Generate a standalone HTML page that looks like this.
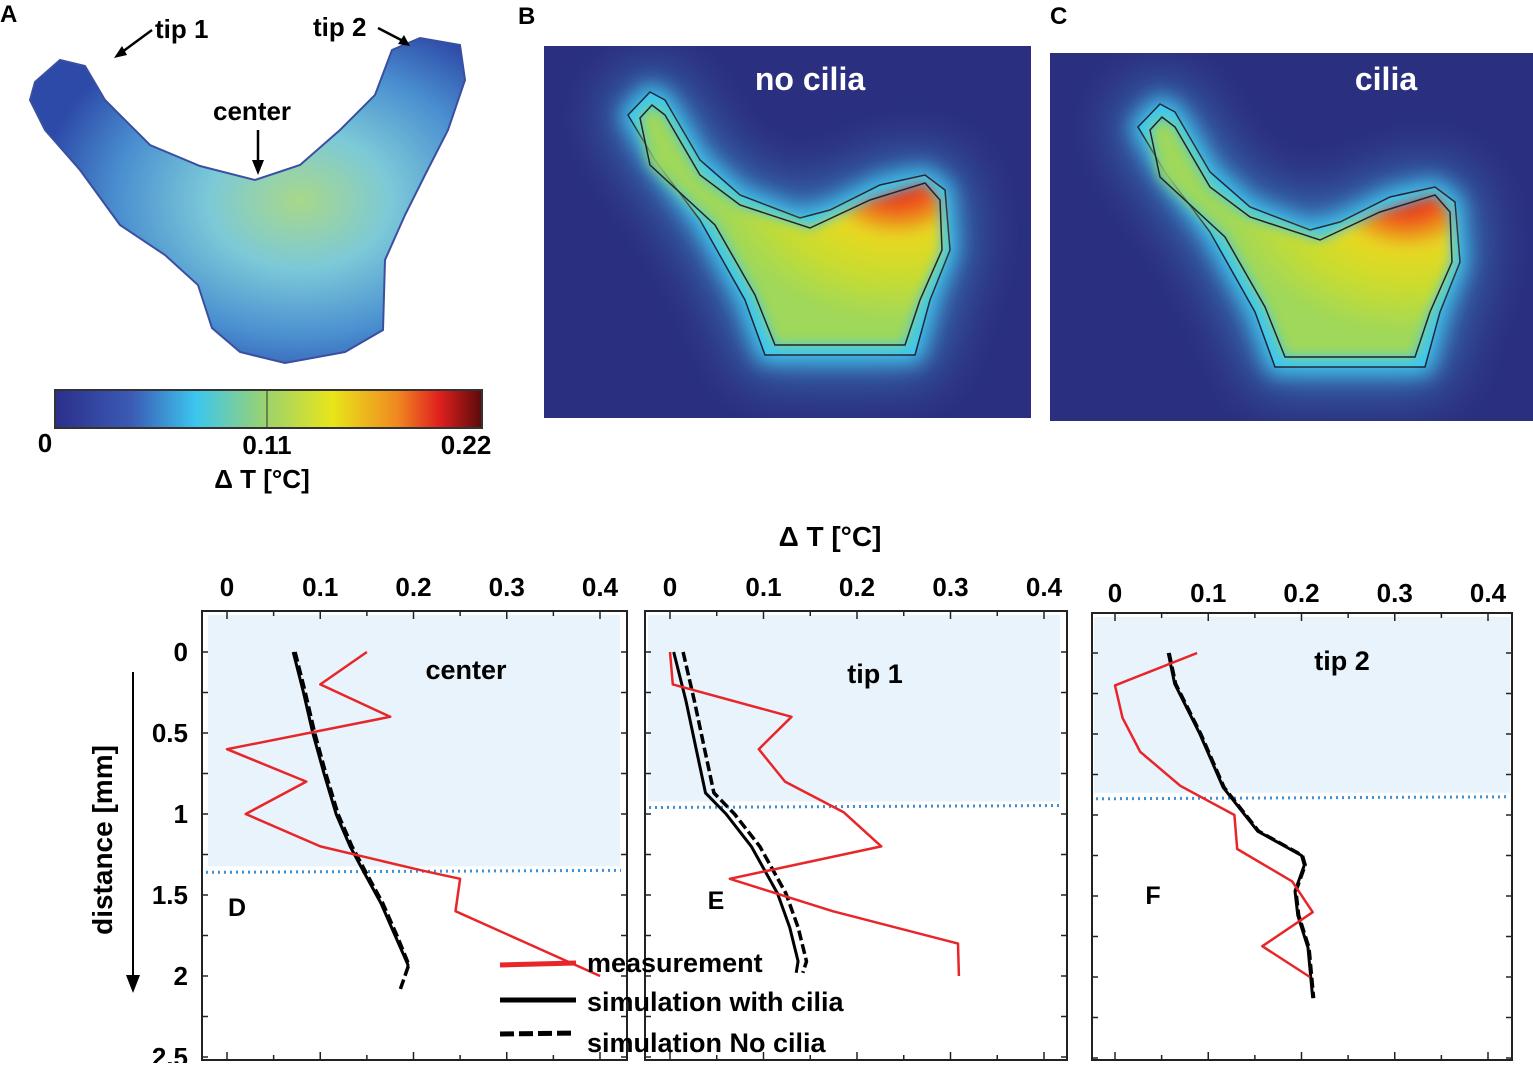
<!DOCTYPE html>
<html><head><meta charset="utf-8">
<style>
html,body{margin:0;padding:0;background:#fff;}
body{width:1533px;height:1063px;position:relative;overflow:hidden;font-family:"Liberation Sans",sans-serif;}
svg text{font-family:"Liberation Sans",sans-serif;font-weight:bold;}
</style></head>
<body>
<svg id="fig" width="1533" height="1063" viewBox="0 0 1533 1063" xmlns="http://www.w3.org/2000/svg">
<defs>
 <linearGradient id="cbar" x1="0" x2="1" y1="0" y2="0">
  <stop offset="0" stop-color="#2b2f8a"/><stop offset="0.18" stop-color="#3b5bb5"/>
  <stop offset="0.33" stop-color="#3cc6ee"/><stop offset="0.5" stop-color="#9fd36a"/>
  <stop offset="0.65" stop-color="#e8e61a"/><stop offset="0.8" stop-color="#f08a20"/>
  <stop offset="0.9" stop-color="#e0201e"/><stop offset="1" stop-color="#5a0a0a"/>
 </linearGradient>
 <radialGradient id="blobg" cx="0.62" cy="0.5" r="0.6">
  <stop offset="0" stop-color="#a8d88a"/><stop offset="0.35" stop-color="#7cc9d8"/>
  <stop offset="0.7" stop-color="#4a8fd0"/><stop offset="1" stop-color="#2d4aa8"/>
 </radialGradient>
 <radialGradient id="hot" cx="0.85" cy="0.3" r="0.6">
  <stop offset="0" stop-color="#d8101a"/><stop offset="0.22" stop-color="#ee5a1e"/>
  <stop offset="0.42" stop-color="#e8d820"/><stop offset="0.7" stop-color="#c8dc30"/><stop offset="1" stop-color="#9fd85a"/>
 </radialGradient>
 <filter id="blur1" x="-50%" y="-50%" width="200%" height="200%"><feGaussianBlur stdDeviation="28"/></filter>
 <filter id="blur3" x="-50%" y="-50%" width="200%" height="200%"><feGaussianBlur stdDeviation="10"/></filter>
 <filter id="blur2"><feGaussianBlur stdDeviation="6"/></filter>
 <clipPath id="clipB"><rect x="544" y="46" width="487" height="372"/></clipPath>
 <clipPath id="clipC"><rect x="1050" y="53" width="483" height="368"/></clipPath>
 <g id="heatshape">
  <path d="M628,115 L650,92 L665,100 L700,160 L740,195 L800,218 L830,210 L880,185 L925,175 L945,190 L950,250 L930,300 L915,355 L765,355 L745,300 L700,220 L655,160 Z" fill="#4ac0ee" stroke="#4ac0ee" stroke-width="40" opacity="0.55" filter="url(#blur1)"/>
  <path d="M628,115 L650,92 L665,100 L700,160 L740,195 L800,218 L830,210 L880,185 L925,175 L945,190 L950,250 L930,300 L915,355 L765,355 L745,300 L700,220 L655,160 Z" fill="#3ec6ef" stroke="#40c8f0" stroke-width="14" filter="url(#blur3)"/>
  <path d="M628,115 L650,92 L665,100 L700,160 L740,195 L800,218 L830,210 L880,185 L925,175 L945,190 L950,250 L930,300 L915,355 L765,355 L745,300 L700,220 L655,160 Z" fill="#3ec6ef" stroke="#223" stroke-width="1.5"/>
  <path d="M640,118 L652,105 L665,115 L700,175 L740,205 L810,228 L870,200 L925,183 L940,200 L942,250 L920,300 L905,345 L775,345 L755,295 L715,225 L650,165 Z" fill="url(#hot)" filter="url(#blur2)"/>
  <path d="M640,118 L652,105 L665,115 L700,175 L740,205 L810,228 L870,200 L925,183 L940,200 L942,250 L920,300 L905,345 L775,345 L755,295 L715,225 L650,165 Z" fill="none" stroke="#223" stroke-width="1.5"/>
 </g>
</defs>

<!-- Panel A -->
<text x="0" y="22" font-size="24">A</text>
<path d="M35,82 L60,60 L85,66 L105,100 L150,145 L200,166 L255,180 L300,165 L340,130 L375,95 L392,50 L420,38 L460,45 L465,80 L448,130 L425,175 L405,215 L385,260 L383,330 L345,352 L285,363 L240,352 L212,328 L198,285 L165,255 L120,225 L80,170 L45,130 L30,100 Z" fill="url(#blobg)" stroke="#3a4fa0" stroke-width="2"/>
<g font-size="26">
<text x="155" y="38">tip 1</text>
<line x1="152" y1="30" x2="118" y2="55" stroke="#000" stroke-width="2.5"/>
<path d="M114,58 L122,46 L127,55 Z" fill="#000"/>
<text x="313" y="36">tip 2</text>
<line x1="378" y1="28" x2="405" y2="42" stroke="#000" stroke-width="2.5"/>
<path d="M410,46 L398,44 L404,35 Z" fill="#000"/>
<text x="213" y="120">center</text>
<line x1="258" y1="130" x2="258" y2="165" stroke="#000" stroke-width="2.5"/>
<path d="M252,160 L264,160 L258,175 Z" fill="#000"/>
</g>
<rect x="55" y="390" width="427" height="38" fill="url(#cbar)" stroke="#333" stroke-width="2"/>
<line x1="267" y1="390" x2="267" y2="428" stroke="#333" stroke-width="1"/>
<g font-size="26">
<text x="45" y="452" text-anchor="middle">0</text>
<text x="267" y="454" text-anchor="middle">0.11</text>
<text x="466" y="454" text-anchor="middle">0.22</text>
<text x="262" y="488" text-anchor="middle">Δ T [°C]</text>
</g>

<!-- Panel B -->
<text x="518" y="24" font-size="24">B</text>
<g>
 <rect x="544" y="46" width="487" height="372" fill="#2b2f7f"/>
 <g clip-path="url(#clipB)"><use href="#heatshape"/></g>
 <text x="810" y="90" font-size="32" fill="#fff" text-anchor="middle">no cilia</text>
</g>

<!-- Panel C -->
<text x="1050" y="24" font-size="24">C</text>
<g>
 <rect x="1050" y="53" width="483" height="368" fill="#2b2f7f"/>
 <g clip-path="url(#clipC)"><g transform="translate(510,12)"><use href="#heatshape"/></g></g>
 <text x="1386" y="90" font-size="32" fill="#fff" text-anchor="middle">cilia</text>
</g>

<!-- bottom shared labels -->
<text x="830" y="546" font-size="28" text-anchor="middle">Δ T [°C]</text>
<text transform="translate(112,840) rotate(-90)" font-size="28" text-anchor="middle">distance  [mm]</text>
<line x1="133" y1="672" x2="133" y2="978" stroke="#000" stroke-width="2"/>
<path d="M126,975 L140,975 L133,993 Z" fill="#000"/>
<g id="charts"></g>

<!-- legend -->
<g font-size="27">
 <line x1="500" y1="965" x2="576" y2="963" stroke="#e8262a" stroke-width="5"/>
 <text x="587" y="972">measurement</text>
 <line x1="500" y1="1000" x2="576" y2="1000" stroke="#000" stroke-width="5"/>
 <text x="587" y="1011">simulation with cilia</text>
 <line x1="500" y1="1034" x2="576" y2="1033" stroke="#000" stroke-width="5" stroke-dasharray="14,5"/>
 <text x="587" y="1052">simulation No cilia</text>
</g>
</svg>
<script>
// ---- Panel D (center) ----
const dMeasX=[0.15,0.10,0.175,0.0,0.085,0.02,0.10,0.21,0.25,0.245,0.40];
const dMeasY=[0,0.2,0.4,0.6,0.8,1.0,1.2,1.35,1.4,1.6,2.0];
const dSimX=[0.071,0.082,0.092,0.104,0.117,0.132,0.146,0.165,0.181,0.194,0.194];
const dSimY=[0,0.25,0.5,0.75,1.0,1.2,1.35,1.55,1.76,1.93,1.95];
const dNoX=[0.073,0.084,0.094,0.106,0.119,0.134,0.148,0.167,0.183,0.195,0.186];
const dNoY=[0,0.25,0.5,0.75,1.0,1.2,1.35,1.55,1.76,1.93,2.08];
// ---- Panel E (tip 1) ----
const eMeasX=[0,0.003,0.13,0.095,0.123,0.186,0.226,0.064,0.174,0.308,0.309];
const eMeasY=[0,0.2,0.4,0.6,0.8,0.99,1.2,1.4,1.6,1.8,2.0];
const eSimX=[0.004,0.017,0.028,0.038,0.06,0.087,0.115,0.128,0.137,0.135];
const eSimY=[0,0.3,0.6,0.87,1.0,1.2,1.49,1.7,1.91,1.98];
const eNoX=[0.014,0.026,0.037,0.047,0.069,0.096,0.124,0.137,0.146,0.142];
const eNoY=[0,0.3,0.6,0.87,1.0,1.2,1.49,1.7,1.91,1.98];
// ---- Panel F (tip 2) ----
const fMeasX=[0.088,0,0.008,0.027,0.07,0.128,0.131,0.19,0.212,0.158,0.209];
const fMeasY=[0,0.2,0.4,0.61,0.82,1.0,1.21,1.41,1.6,1.81,2.0];
const fSimX=[0.057,0.064,0.091,0.116,0.153,0.2,0.203,0.193,0.196,0.207,0.212];
const fSimY=[0,0.19,0.5,0.83,1.1,1.25,1.31,1.47,1.62,1.82,2.13];
const fNoX=[0.058,0.065,0.092,0.117,0.154,0.201,0.204,0.194,0.197,0.208,0.213];
const fNoY=[0,0.19,0.5,0.83,1.1,1.25,1.31,1.47,1.62,1.82,2.13];
const xTicks=[0,0.1,0.2,0.3,0.4];
const xTickLabels=["0","0.1","0.2","0.3","0.4"];
const yTicks=[0,0.5,1,1.5,2,2.5];
const yTickLabels=["0","0.5","1","1.5","2","2.5"];
const ciliaDepth=[1.36,0.96,0.9];

const NS="http://www.w3.org/2000/svg";
const root=document.getElementById('charts');
function mk(tag,attrs,parent){const e=document.createElementNS(NS,tag);for(const k in attrs)e.setAttribute(k,attrs[k]);(parent||root).appendChild(e);return e;}

const panels=[
 {key:'d',title:'center',letter:'D',box:[202,611,627,1060],x0:227,x1:600,y0:652,y1:976,labY:596,ylabels:true,title_xy:[466,679],let_xy:[237,916],mx:dMeasX,my:dMeasY,sx:dSimX,sy:dSimY,nx:dNoX,ny:dNoY,shade:[208,615,620]},
 {key:'e',title:'tip 1',letter:'E',box:[645,611,1067,1060],x0:670,x1:1044,y0:652,y1:976,labY:596,ylabels:false,title_xy:[875,683],let_xy:[716,909],mx:eMeasX,my:eMeasY,sx:eSimX,sy:eSimY,nx:eNoX,ny:eNoY,shade:[648,615,1060]},
 {key:'f',title:'tip 2',letter:'F',box:[1092,613,1512,1060],x0:1115,x1:1488,y0:653,y1:977,labY:602,ylabels:false,title_xy:[1342,670],let_xy:[1153,904],mx:fMeasX,my:fMeasY,sx:fSimX,sy:fSimY,nx:fNoX,ny:fNoY,shade:[1094,617,1510]}
];
panels.forEach((p,i)=>{
 const g=mk('g',{});
 
 
 const X=v=>p.x0+(p.x1-p.x0)*v/0.4;
 const Y=v=>p.y0+(p.y1-p.y0)*v/2;
 const [bl,bt,br,bb]=p.box;
 const sh=mk('rect',{x:p.shade[0],y:p.shade[1],width:p.shade[2]-p.shade[0],height:Y(ciliaDepth[i])-6-p.shade[1],fill:'#e9f3fb'},g);
 
 
 const dl=mk('line',{x1:bl+4,x2:br-6,y1:Y(ciliaDepth[i]),y2:Y(ciliaDepth[i])-2,stroke:'#3f8fd8','stroke-width':3,'stroke-dasharray':'2,4'},g);
 
 
 const bx=mk('rect',{x:bl,y:bt,width:br-bl,height:bb-bt,fill:'none',stroke:'#222','stroke-width':2},g);
 
 
 for(let t=0;t<=0.45;t+=0.05){const x=X(t);if(x>br-2)break;const len=(Math.round(t*100)%10===0)?8:5;
  mk('line',{x1:x,x2:x,y1:bt,y2:bt+len,stroke:'#222','stroke-width':1.5},g);
  mk('line',{x1:x,x2:x,y1:bb,y2:bb-len,stroke:'#222','stroke-width':1.5},g);}
 for(let t=0;t<=2.5;t+=0.25){const y=Y(t);if(y>bb)break;
  mk('line',{x1:bl,x2:bl+6,y1:y,y2:y,stroke:'#222','stroke-width':1.5},g);
  mk('line',{x1:br,x2:br-6,y1:y,y2:y,stroke:'#222','stroke-width':1.5},g);}
 xTicks.forEach((t,j)=>{const tx=mk('text',{x:X(t),y:p.labY,'font-size':26,'text-anchor':'middle'},g);tx.textContent=xTickLabels[j];
  
  });
 if(p.ylabels){yTicks.forEach((t,j)=>{const ty=mk('text',{x:188,y:Y(t)+9,'font-size':26,'text-anchor':'end'},g);ty.textContent=yTickLabels[j];
  
  });}
 const line=(xs,ys,attrs,name)=>{const d=xs.map((v,k)=>(k?'L':'M')+X(v).toFixed(1)+','+Y(ys[k]).toFixed(1)).join(' ');
  const e=mk('path',Object.assign({d:d,fill:'none','stroke-linejoin':'round'},attrs),g);
  
  };
 line(p.nx,p.ny,{stroke:'#000','stroke-width':3.5,'stroke-dasharray':'10,4'},'series-sim-no-cilia');
 line(p.sx,p.sy,{stroke:'#000','stroke-width':3},'series-sim-cilia');
 line(p.mx,p.my,{stroke:'#e8262a','stroke-width':2.5},'series-measurement');
 const tt=mk('text',{x:p.title_xy[0],y:p.title_xy[1],'font-size':27,'text-anchor':'middle'},g);tt.textContent=p.title;
 
 
 const lt=mk('text',{x:p.let_xy[0],y:p.let_xy[1],'font-size':25,'text-anchor':'middle'},g);lt.textContent=p.letter;
 
 
});
</script>
</body></html>
